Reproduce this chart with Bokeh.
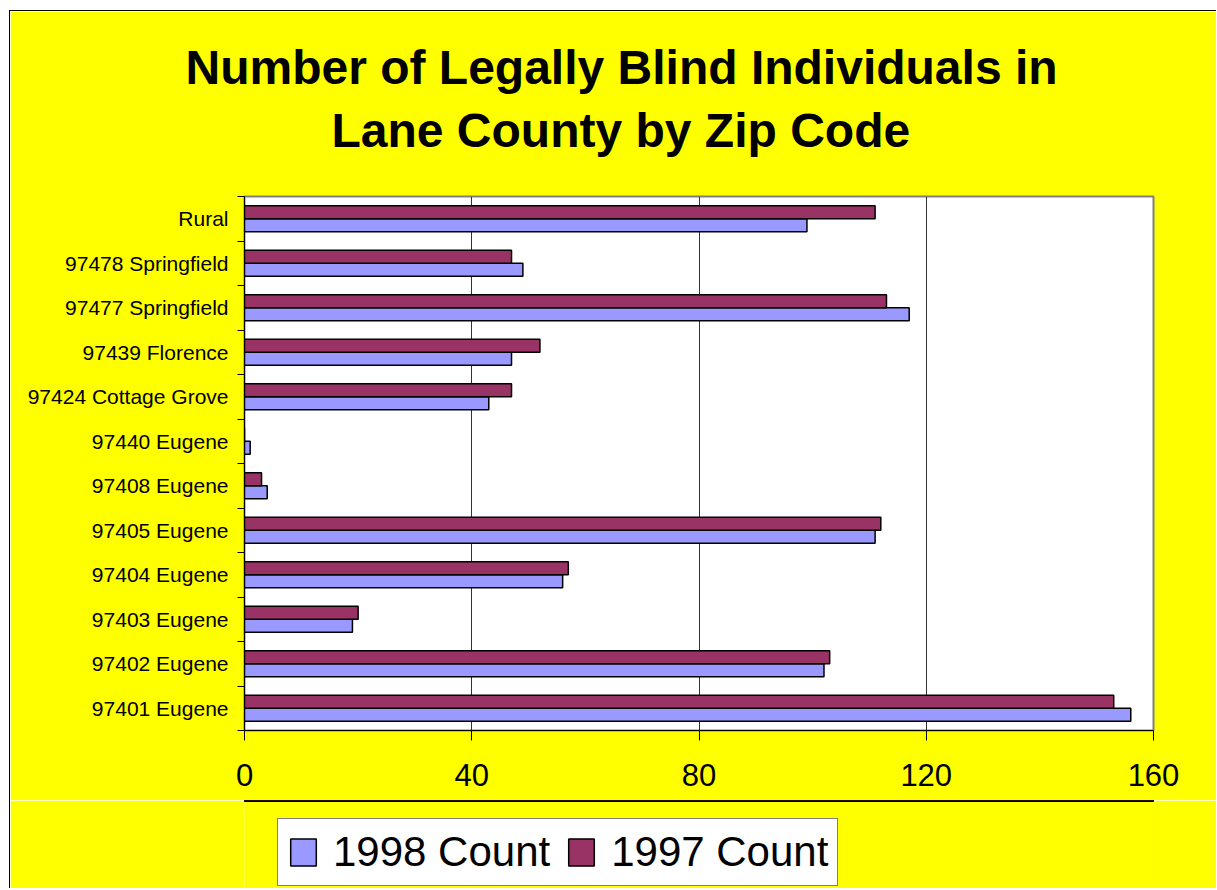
from bokeh.plotting import figure
from bokeh.layouts import column
from bokeh.models import Range1d, FixedTicker, Title, Legend, LegendItem, ColumnDataSource
from bokeh.transform import dodge
from bokeh.embed import file_html
from bokeh.resources import INLINE

categories = ["97401 Eugene", "97402 Eugene", "97403 Eugene", "97404 Eugene",
              "97405 Eugene", "97408 Eugene", "97440 Eugene", "97424 Cottage Grove",
              "97439 Florence", "97477 Springfield", "97478 Springfield", "Rural"]
count_1998 = [156, 102, 19, 56, 111, 4, 1, 43, 47, 117, 49, 99]
count_1997 = [153, 103, 20, 57, 112, 3, 0, 47, 52, 113, 47, 111]
x_ticks = [0, 40, 80, 120, 160]
title_line1 = "Number of Legally Blind Individuals in"
title_line2 = "Lane County by Zip Code"
series_names = ["1998 Count", "1997 Count"]
series_colors = ["#9999FF", "#993366"]

pos = [i + 0.5 for i in range(len(categories))]
src = ColumnDataSource(dict(y=pos, c98=count_1998, c97=count_1997))

FONT = "Liberation Sans"
YELLOW = "#FFFF00"

p = figure(frame_width=909, frame_height=534, output_backend="svg", toolbar_location=None,
           x_range=Range1d(0, 160), y_range=Range1d(0, len(categories)),
           min_border_left=234, min_border_right=63, min_border_top=185, min_border_bottom=70)

p.background_fill_color = "white"
p.border_fill_color = YELLOW
p.outline_line_color = "#808080"
p.outline_line_width = 2

p.hbar(y=dodge("y", -0.145), right="c98", left=0, height=0.29, source=src,
       fill_color=series_colors[0], line_color="black", line_width=1.5)
p.hbar(y=dodge("y", 0.145), right="c97", left=0, height=0.29, source=src,
       fill_color=series_colors[1], line_color="black", line_width=1.5)

# x axis
p.xaxis.ticker = FixedTicker(ticks=x_ticks)
p.xaxis.axis_line_color = "black"
p.xaxis.major_tick_line_color = "black"
p.xaxis.major_tick_out = 10
p.xaxis.major_tick_in = 0
p.xaxis.minor_tick_line_color = None
p.xaxis.major_label_text_font = FONT
p.xaxis.major_label_text_font_size = "31px"
p.xaxis.major_label_text_color = "black"
p.xaxis.major_label_standoff = 23

# y axis
p.yaxis.ticker = FixedTicker(ticks=pos, minor_ticks=list(range(len(categories) + 1)))
p.yaxis.major_label_overrides = {v: c for v, c in zip(pos, categories)}
p.yaxis.axis_line_color = "black"
p.yaxis.major_tick_line_color = None
p.yaxis.major_tick_out = 0
p.yaxis.major_tick_in = 0
p.yaxis.minor_tick_line_color = "black"
p.yaxis.minor_tick_out = 7
p.yaxis.minor_tick_in = 0
p.yaxis.major_label_text_font = FONT
p.yaxis.major_label_text_font_size = "21px"
p.yaxis.major_label_text_color = "black"
p.yaxis.major_label_standoff = 9

p.ygrid.grid_line_color = None
p.xgrid.ticker = FixedTicker(ticks=x_ticks[1:-1])
p.xgrid.grid_line_color = "#333333"
p.xgrid.grid_line_width = 1

# two-line title (a thin spacer keeps the second line off the frame)
spacer = Title(text=" ", text_font=FONT, text_font_size="1px", standoff=37)
t2 = Title(text=title_line2, align="left", offset=87, text_font=FONT,
           text_font_size="48px", text_font_style="bold", text_color="black", standoff=0)
t1 = Title(text=title_line1, align="left", offset=-59, text_font=FONT,
           text_font_size="48px", text_font_style="bold", text_color="black", standoff=15)
p.add_layout(spacer, "above")
p.add_layout(t2, "above")
p.add_layout(t1, "above")

# legend strip below the chart (same yellow background); its key glyphs reuse the
# data source but lie outside this strip's visible range
leg_fig = figure(width=1206, height=88, output_backend="svg", toolbar_location=None,
                 x_range=Range1d(0, 1), y_range=Range1d(-10, -9),
                 x_axis_type=None, y_axis_type=None,
                 min_border_left=0, min_border_right=0, min_border_top=0, min_border_bottom=0)
leg_fig.background_fill_color = YELLOW
leg_fig.border_fill_color = YELLOW
leg_fig.outline_line_color = None
leg_fig.xgrid.visible = False
leg_fig.ygrid.visible = False

items = []
for name, col, field, off in zip(series_names, series_colors, ["c98", "c97"], [-0.145, 0.145]):
    r = leg_fig.hbar(y=dodge("y", off), right=field, left=0, height=0.29, source=src,
                     fill_color=col, line_color="black", line_width=1.5)
    items.append(LegendItem(label=name, renderers=[r]))

legend = Legend(items=items, orientation="horizontal", location=(33, 2),
                label_text_font=FONT, label_text_font_size="42px", label_text_color="black",
                glyph_width=32, glyph_height=34, label_standoff=14, spacing=15,
                padding=9, margin=0,
                border_line_color="black", border_line_width=1,
                background_fill_color="white", background_fill_alpha=1)
leg_fig.add_layout(legend, "center")

layout = column(p, leg_fig, spacing=0)
layout.styles = {"margin-left": "9px", "margin-top": "10px",
                 "border-left": "1px solid black", "border-top": "1px solid black"}

open("out.html", "w").write(file_html(layout, INLINE))
